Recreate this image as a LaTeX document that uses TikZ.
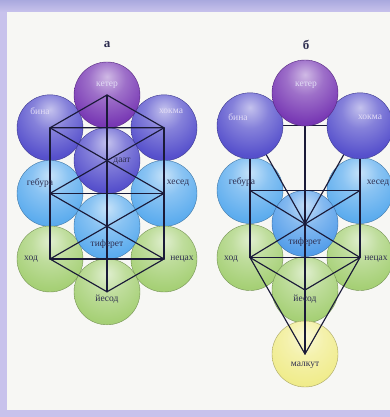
\documentclass[tikz,border=0pt]{standalone}
\usepackage{fontspec}
\setmainfont{Liberation Serif}
\definecolor{lav}{HTML}{C8C2EC}
\definecolor{lavtop}{HTML}{A9A9DE}
\definecolor{panel}{HTML}{F7F7F4}
\definecolor{linec}{HTML}{1A1A38}
\definecolor{cK}{HTML}{7838B4}
\definecolor{cB}{HTML}{5650CC}
\definecolor{cG}{HTML}{5CACEE}
\definecolor{cT}{HTML}{549EEA}
\definecolor{cH}{HTML}{A6D076}
\definecolor{cM}{HTML}{F0EC8C}
\definecolor{tdark}{HTML}{2E2E50}
\definecolor{tlight}{HTML}{E2DCF6}
\pgfdeclareradialshading[sphcol]{sphere}{\pgfqpoint{0bp}{14bp}}{%
  color(0bp)=(sphcol!35!white); color(14bp)=(sphcol!72!white);
  color(32bp)=(sphcol); color(64bp)=(sphcol!82!black); color(100bp)=(sphcol!82!black)}
\begin{document}
\begin{tikzpicture}[x=1pt,y=-1pt,
  sphcolor/.code={\colorlet{sphcol}{#1}},
  sph/.style={circle, inner sep=0pt, minimum size=66pt, shading=sphere, sphcolor=#1, draw=#1!70!black, line width=0.4pt},
  lbl/.style={font=\fontsize{9.5}{10}\selectfont, text=#1, inner sep=0pt},
  link/.style={draw=linec, line width=1.15pt, line cap=round, line join=round},
  head/.style={font=\fontsize{13}{14}\selectfont\bfseries, text=tdark, inner sep=0pt}]
\useasboundingbox (0,0) rectangle (390,417);
% frame
\fill[lav] (0,0) rectangle (390,417);
\shade[top color=lavtop, bottom color=lav] (0,0) rectangle (390,12);
\fill[panel] (7,12) rectangle (390,410);
\node[head] (ha) at (107,45) {а};
\node[head] (hb) at (306,45) {б};
% ===== diagram a =====
\node[sph=cB] (aB) at (50,127.8) {};
\node[sph=cB] (aH) at (164,127.8) {};
\node[sph=cK] (aK) at (107,95) {};
\node[sph=cG] (aG) at (50,193.4) {};
\node[sph=cG] (aHe) at (164,193.4) {};
\node[sph=cB] (aD) at (107,160.6) {};
\node[sph=cH] (aHo) at (50,259) {};
\node[sph=cH] (aN) at (164,259) {};
\node[sph=cG] (aT) at (107,226.2) {};
\node[sph=cH] (aY) at (107,291.8) {};
% lines a
\draw[link] (aK.center) -- (aB.center) -- (aH.center) -- cycle;
\draw[link] (aK.center) -- (aY.center);
\draw[link] (aB.center) -- (aHo.center);
\draw[link] (aH.center) -- (aN.center);
\draw[link] (aB.center) -- (aHe.center);
\draw[link] (aH.center) -- (aG.center);
\draw[link] (aG.center) -- (aHe.center);
\draw[link] (aG.center) -- (aN.center);
\draw[link] (aHe.center) -- (aHo.center);
\draw[link] (aHo.center) -- (aN.center);
\draw[link] (aHo.center) -- (aY.center) -- (aN.center);
% labels a
\node[lbl=tlight] (taK) at (107,85) {кетер};
\node[lbl=tlight] (taB) at (40,111) {бина};
\node[lbl=tlight] (taH) at (171,111) {хокма};
\node[lbl=tdark] (taD) at (122,161) {даат};
\node[lbl=tdark] (taG) at (40,183) {гебура};
\node[lbl=tdark] (taHe) at (178,183) {хесед};
\node[lbl=tdark] (taT) at (107,244) {тиферет};
\node[lbl=tdark] (taHo) at (31,259) {ход};
\node[lbl=tdark] (taN) at (182,259) {нецах};
\node[lbl=tdark] (taY) at (107,299) {йесод};
% ===== diagram b =====
\coordinate (bKc) at (305,93);
\coordinate (bBc) at (250,125.8);
\coordinate (bHc) at (360,125.8);
\node[sph=cH] (bHo) at (250,257.5) {};
\node[sph=cH] (bN) at (360,257.5) {};
\node[sph=cH] (bY) at (305,290) {};
\node[sph=cM] (bM) at (305,354) {};
\node[sph=cG] (bG) at (250,190.5) {};
\node[sph=cG] (bHe) at (360,190.5) {};
\node[sph=cT] (bT) at (305,223.5) {};
% lines b
\draw[link] (bKc) -- (bM.center);
\draw[link] (bBc) -- (bHc);
\draw[link] (bBc) -- (bHo.center);
\draw[link] (bHc) -- (bN.center);
\draw[link] (bBc) -- (bT.center) -- (bHc);
\draw[link] (bG.center) -- (bHe.center);
\draw[link] (bG.center) -- (bN.center);
\draw[link] (bHe.center) -- (bHo.center);
\draw[link] (bHo.center) -- (bN.center);
\draw[link] (bHo.center) -- (bY.center) -- (bN.center);
\draw[link] (bHo.center) -- (bM.center) -- (bN.center);
% top spheres b
\node[sph=cB] (bB) at (bBc) {};
\node[sph=cB] (bH) at (bHc) {};
\node[sph=cK] (bK) at (bKc) {};
% labels b
\node[lbl=tlight] (tbK) at (306,85) {кетер};
\node[lbl=tlight] (tbB) at (238,117) {бина};
\node[lbl=tlight] (tbH) at (370,117) {хокма};
\node[lbl=tdark] (tbG) at (242,182) {гебура};
\node[lbl=tdark] (tbHe) at (378,183) {хесед};
\node[lbl=tdark] (tbT) at (305,242) {тиферет};
\node[lbl=tdark] (tbHo) at (231,259) {ход};
\node[lbl=tdark] (tbN) at (376,259) {нецах};
\node[lbl=tdark] (tbY) at (305,299) {йесод};
\node[lbl=tdark] (tbM) at (305,365) {малкут};
\end{tikzpicture}
\end{document}
